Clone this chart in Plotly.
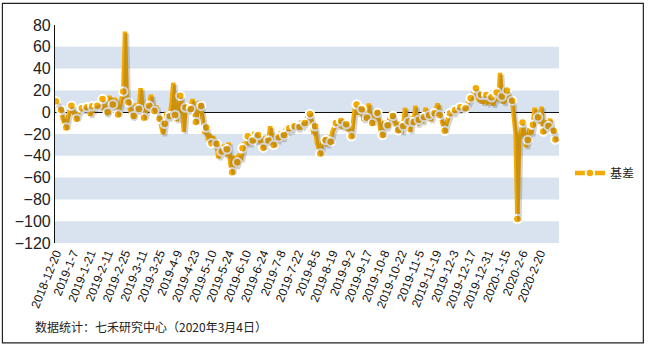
import plotly.graph_objects as go

# 基差 (basis), one value per trading day, 2018-12-20 .. 2020-3-4
basis = [
    10, 7, 4, 2, -6, -10, -14, -4, 3, 6, 1, -3,
    -6, -1, 2, 3.7, 1, 5, 4.5, 2, -3, 5.5, 3, 6,
    6, 8, 4, 12, 3, -2, 0, 15, 4, 7, 13, 2,
    -2, 5, 12, 19, 74, 12, 9, 3, -5, -3.4, 8, 0,
    3, 22, 2, -5, -1, 8, 6, 16, 5, 1, 6, -4,
    -6, -12, -20, -10.7, 0, -6, -3.4, 10, 27, -2.5, -8, 6,
    15, 6, -18, 4.2, 0, 6, 3, 12, 0, -9, 2, 10,
    5.8, -5, -20, -14, -26, -20, -28.5, -22, -33, -29, -42, -38,
    -36, -30, -40, -34, -28, -48, -55, -40, -50, -46, -38, -44,
    -33, -28, -30, -22, -30, -24, -26, -18, -28, -21, -25, -30,
    -32.5, -22, -28, -26, -13, -24, -30, -20, -27, -23, -18, -25,
    -21, -15, -19, -14.7, -18, -12, -13, -10, -16, -13.5, -8, -12,
    -10, -5, -3, -1.6, -8, -20, -13, -28, -32, -38, -30, -22,
    -25.5, -31, -22, -27, -18, -13, -10, -14, -6, -8, -15, -9,
    -11, -17, -14, -22, -5, 4, 7, -2, 5, 2.7, -8, 0,
    -5, 8, -7, -10, -4, 3, -0.5, -12, -18, -21, -8, -15,
    -12, -6, 0, -3.4, -10, -14, -16.5, -9, -19, -12.6, 4, -10,
    -8.6, -18, -4, -9, 6, -12, -7, -2, -10, -4.3, 4, -6,
    -2.7, -8, 2, -1, 3, 8, -2.5, -6, -12, -17, -10, -4,
    -1, 2, -2, 2, 5, 1, 4.6, 2, 6, 3.6, 8, 10,
    12.8, 16, 18, 22, 14, 10, 16, 8, 12, 15.8, 9, 10,
    13.7, 6, 15, 18, 10, 36, 14.3, 8, 12, 19.8, 15, 8,
    10.6, -12, -20, -98, -25, -18, -9.5, -20, -32, -25.4, -15, -20,
    -11.6, 4, -8, -4.6, -10, 5, -17.8, -8, -14, -12.6, -6, -20,
    -17, -25,
]

tick_labels = [
    "2018-12-20", "2019-1-7", "2019-1-21", "2019-2-11", "2019-2-25",
    "2019-3-11", "2019-3-25", "2019-4-9", "2019-4-23", "2019-5-10",
    "2019-5-24", "2019-6-10", "2019-6-24", "2019-7-8", "2019-7-22",
    "2019-8-5", "2019-8-19", "2019-9-2", "2019-9-17", "2019-10-8",
    "2019-10-22", "2019-11-5", "2019-11-19", "2019-12-3", "2019-12-17",
    "2019-12-31", "2020-1-15", "2020-2-6", "2020-2-20",
]
LABEL_STEP = 10      # trading days between axis labels
MARKER_STEP = 3      # a marker on every third trading day

n = len(basis)
days = list(range(n))
tick_vals = [i * LABEL_STEP for i in range(len(tick_labels))]
mark_idx = list(range(0, n, MARKER_STEP))
if mark_idx[-1] != n - 1:
    mark_idx.append(n - 1)
mark_x = [days[i] for i in mark_idx]
mark_y = [basis[i] for i in mark_idx]

ORANGE = "#F4AA00"
BAND = "#D8E3EF"
SHADOW = "rgba(60,60,60,0.22)"
FONT = "Liberation Sans, Arial, sans-serif"
CJK = "Noto Sans CJK SC, sans-serif"

W, H = 652, 347
L, R_EDGE = 55, 565          # plot block incl. shadow offset
T, B_EDGE = 24.7, 245
OFF = 2                      # shadow offset in px
pw = R_EDGE - L
ph = B_EDGE - T
dx = OFF / pw
dy = OFF / ph

x_range = [-0.5, 291.1]
y_range = [-120, 80]

MARKER = dict(color=ORANGE, size=8.5, line=dict(color="white", width=2))

fig = go.Figure()

# soft drop shadow under the line, drawn on an offset copy of the axes
fig.add_trace(go.Scatter(
    x=days, y=basis, mode="lines", xaxis="x2", yaxis="y2",
    line=dict(color=SHADOW, width=4.5), hoverinfo="skip", showlegend=False,
))

# basis line and markers
fig.add_trace(go.Scatter(
    x=days, y=basis, mode="lines", name="基差",
    line=dict(color=ORANGE, width=4.5), showlegend=False,
))
fig.add_trace(go.Scatter(
    x=mark_x, y=mark_y, mode="markers", name="基差",
    marker=MARKER, showlegend=False,
))
# legend entry
fig.add_trace(go.Scatter(
    x=[None], y=[None], mode="lines+markers", name="基差",
    line=dict(color=ORANGE, width=4.5), marker=MARKER,
))

# alternating horizontal bands
shapes = []
for lo in range(-120, 80, 40):
    shapes.append(dict(
        type="rect", xref="x domain", yref="y", x0=0, x1=1, y0=lo, y1=lo + 20,
        fillcolor=BAND, line=dict(width=0), layer="below",
    ))
# outer frame
shapes.append(dict(
    type="rect", xref="paper", yref="paper",
    x0=(2 - L) / pw, x1=(648 - L) / pw,
    y0=(B_EDGE - 343) / ph, y1=(B_EDGE - 3) / ph,
    line=dict(color="#222222", width=1.2), fillcolor="rgba(0,0,0,0)",
))

fig.update_layout(
    width=W, height=H,
    margin=dict(l=L, r=W - R_EDGE, t=T, b=H - B_EDGE, pad=0),
    paper_bgcolor="white", plot_bgcolor="rgba(0,0,0,0)",
    shapes=shapes,
    showlegend=True,
    legend=dict(
        x=(574 - L) / pw, xanchor="left", y=(B_EDGE - 173) / ph, yanchor="middle",
        font=dict(family=CJK, size=12, color="#222222"),
        bgcolor="rgba(0,0,0,0)", borderwidth=0, itemwidth=30,
    ),
    xaxis=dict(
        domain=[0, 1 - dx], range=x_range, showgrid=False, zeroline=False,
        showline=False, ticks="", tickmode="array", tickvals=tick_vals,
        ticktext=tick_labels, tickangle=-68,
        tickfont=dict(family=FONT, size=12, color="#111111"),
    ),
    yaxis=dict(
        domain=[dy, 1], range=y_range, dtick=20, showgrid=False,
        zeroline=True, zerolinecolor="#111111", zerolinewidth=1,
        showline=True, linecolor="#111111", linewidth=1.2, ticks="",
        tickfont=dict(family=FONT, size=16, color="#222222"),
    ),
    xaxis2=dict(domain=[dx, 1], range=x_range, anchor="y2", visible=False),
    yaxis2=dict(domain=[0, 1 - dy], range=y_range, anchor="x2", visible=False),
    annotations=[dict(
        text="数据统计：七禾研究中心（2020年3月4日）",
        xref="paper", yref="paper", x=(33 - L) / pw, y=(B_EDGE - 327) / ph,
        xanchor="left", yanchor="middle", showarrow=False,
        font=dict(family=CJK, size=12, color="#222222"),
    )],
)

fig.write_html("out.html")
